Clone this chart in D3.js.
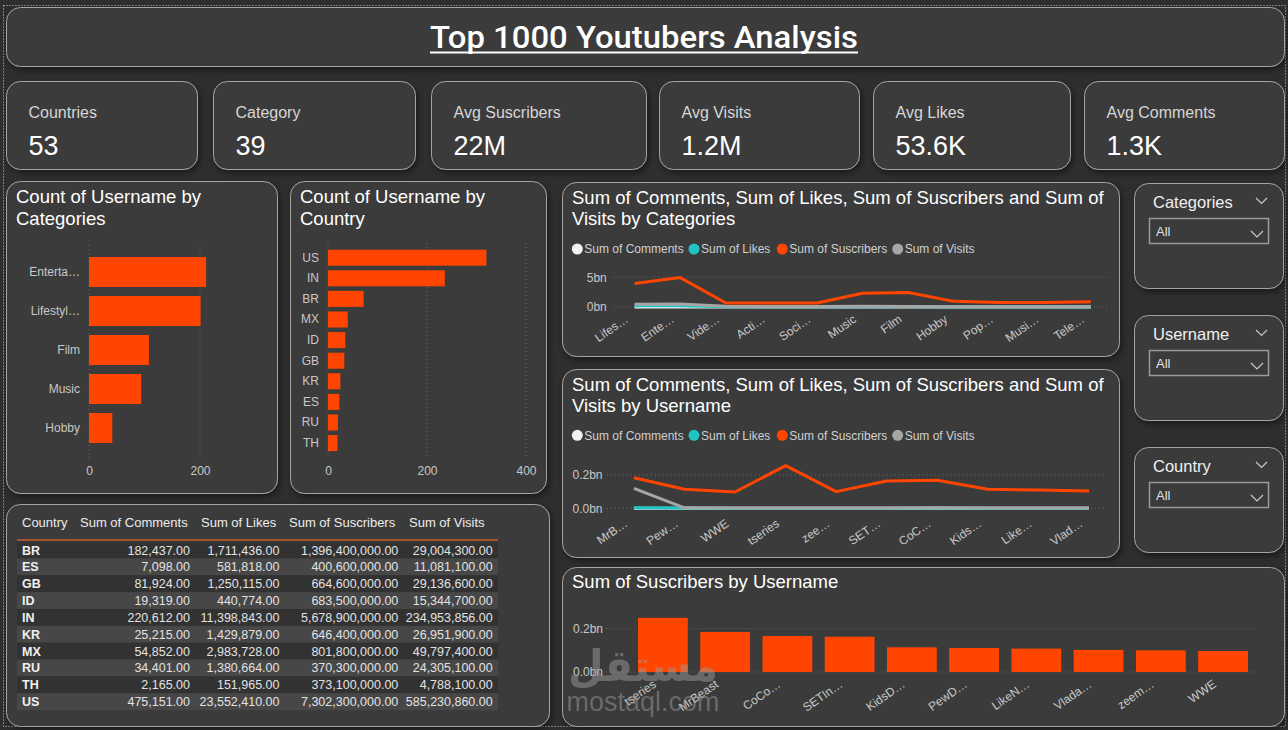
<!DOCTYPE html>
<html>
<head>
<meta charset="utf-8">
<title>Top 1000 Youtubers Analysis</title>
<style>
  body { margin: 0; background: #2e2e2e; }
  svg text { font-family: "Liberation Sans", Arial, sans-serif; }
</style>
<script src="https://d3js.org/d3.v7.min.js"></script>
</head>
<body>
<svg id="dash" width="1288" height="730"></svg>
<script>
// ---- data ----
const kpiLabels = ["Countries", "Category", "Avg Suscribers", "Avg Visits", "Avg Likes", "Avg Comments"];
const kpiValues = ["53", "39", "22M", "1.2M", "53.6K", "1.3K"];

const catNames = ["Enterta…", "Lifestyl…", "Film", "Music", "Hobby"];
const catCounts = [211, 201, 108, 94, 42];

const ctryNames = ["US", "IN", "BR", "MX", "ID", "GB", "KR", "ES", "RU", "TH"];
const ctryCounts = [320, 236, 72, 40, 35, 33, 25, 23, 20, 19];

const seriesNames = ["Sum of Comments", "Sum of Likes", "Sum of Suscribers", "Sum of Visits"];
const seriesColors = ["#f2f2f2", "#1fc4c4", "#ff4500", "#a6a6a6"];

// by category, in billions
const lineCats = ["Lifes…", "Ente…", "Vide…", "Acti…", "Soci…", "Music", "Film", "Hobby", "Pop…", "Musi…", "Tele…"];
const catComments = [0.004, 0.005, 0.001, 0.001, 0.001, 0.001, 0.001, 0.001, 0.001, 0.001, 0.001];
const catLikes    = [0.22, 0.20, 0.04, 0.03, 0.03, 0.05, 0.04, 0.02, 0.02, 0.01, 0.02];
const catSubs     = [3.95, 4.95, 0.67, 0.67, 0.67, 2.33, 2.45, 0.95, 0.74, 0.74, 0.9];
const catVisits   = [0.45, 0.50, 0.12, 0.08, 0.07, 0.12, 0.10, 0.05, 0.05, 0.04, 0.05];

// by username, in billions
const lineUsers = ["MrB…", "Pew…", "WWE", "tseries", "zee…", "SET…", "CoC…", "Kids…", "Like…", "Vlad…"];
const userComments = [0.0001, 0.0001, 0.0001, 0.0001, 0.0001, 0.0001, 0.0001, 0.0001, 0.0001, 0.0001];
const userLikes    = [0.004, 0.002, 0.001, 0.001, 0.001, 0.001, 0.002, 0.001, 0.001, 0.001];
const userSubs     = [0.184, 0.114, 0.098, 0.256, 0.100, 0.164, 0.168, 0.114, 0.110, 0.104];
const userVisits   = [0.120, 0.003, 0.002, 0.002, 0.002, 0.002, 0.004, 0.002, 0.002, 0.002];

const barUsers = ["tseries", "MrBeast", "CoCo…", "SETIn…", "KidsD…", "PewD…", "LikeN…", "Vlada…", "zeem…", "WWE"];
const barSubs  = [0.250, 0.185, 0.166, 0.163, 0.114, 0.111, 0.108, 0.102, 0.100, 0.097];

const tblHeaders = ["Country", "Sum of Comments", "Sum of Likes", "Sum of Suscribers", "Sum of Visits"];
const tblCountry = ["BR", "ES", "GB", "ID", "IN", "KR", "MX", "RU", "TH", "US"];
const tblComments = [182437, 7098, 81924, 19319, 220612, 25215, 54852, 34401, 2165, 475151];
const tblLikes = [1711436, 581818, 1250115, 440774, 11398843, 1429879, 2983728, 1380664, 151965, 23552410];
const tblSubs = [1396400000, 400600000, 664600000, 683500000, 5678900000, 646400000, 801800000, 370300000, 373100000, 7302300000];
const tblVisits = [29004300, 11081100, 29136600, 15344700, 234953856, 26951900, 49797400, 24305100, 4788100, 585230860];

const slicerNames = ["Categories", "Username", "Country"];

// ---- drawing ----
const svg = d3.select("#dash");
const orange = "#ff4500";
const axisText = "#c8c8c8";

const defs = svg.append("defs");
const f = defs.append("filter").attr("id", "shadow").attr("x", "-10%").attr("y", "-10%").attr("width", "125%").attr("height", "130%");
f.append("feDropShadow").attr("dx", 2).attr("dy", 3).attr("stdDeviation", 3).attr("flood-color", "#000").attr("flood-opacity", 0.45);

svg.append("rect").attr("width", 1288).attr("height", 730).attr("fill", "#2e2e2e");
svg.append("rect").attr("x", 3.5).attr("y", 5.5).attr("width", 1282).attr("height", 721)
  .attr("fill", "none").attr("stroke", "#cfcfcf").attr("stroke-dasharray", "1,2");

function panel(x, y, w, h) {
  svg.append("rect").attr("x", x + 0.5).attr("y", y + 0.5).attr("width", w).attr("height", h)
    .attr("rx", 14).attr("fill", "#3a3a3a").attr("stroke", "#a5a5a5").attr("stroke-width", 1)
    .attr("filter", "url(#shadow)");
}
function txt(x, y, s, size, color, anchor) {
  return svg.append("text").attr("x", x).attr("y", y).attr("font-size", size)
    .attr("fill", color).attr("text-anchor", anchor || "start").text(s);
}
function dotted(x1, y1, x2, y2) {
  svg.append("line").attr("x1", x1).attr("y1", y1).attr("x2", x2).attr("y2", y2)
    .attr("stroke", "#6a6a6a").attr("stroke-dasharray", "1,3");
}
function cleanAxis(g) {
  g.select(".domain").remove();
  g.selectAll("text").attr("fill", axisText).attr("font-size", 12)
    .attr("font-family", '"Liberation Sans", Arial, sans-serif');
}

// title
panel(6, 7, 1278, 59);
svg.append("text").attr("x", 644).attr("y", 48).attr("text-anchor", "middle")
  .attr("font-size", 31).attr("font-weight", 500).attr("fill", "#fff")
  .style("font-family", "Roboto, sans-serif")
  .attr("textLength", 428).attr("lengthAdjust", "spacingAndGlyphs")
  .text("Top 1000 Youtubers Analysis");
svg.append("line").attr("x1", 430).attr("x2", 858).attr("y1", 52.5).attr("y2", 52.5)
  .attr("stroke", "#fff").attr("stroke-width", 2);

// KPI cards
const cards = [[6, 81, 191, 88], [213, 81, 202, 88], [431, 81, 215, 88], [659, 81, 200, 88], [873, 81, 197, 88], [1084, 81, 200, 88]];
cards.forEach((c, i) => {
  panel(c[0], c[1], c[2], c[3]);
  txt(c[0] + 22.5, 118, kpiLabels[i], 16, "#d6d6d6");
  txt(c[0] + 22.5, 155, kpiValues[i], 27, "#ffffff");
});

// Count of Username by Categories
panel(6, 181, 271, 312);
txt(16, 203, "Count of Username by", 18.5, "#fff");
txt(16, 225, "Categories", 18.5, "#fff");
{
  const x = d3.scaleLinear().domain([0, 200]).range([89, 200]);
  const y = d3.scaleBand().domain(catNames).range([252.5, 447.5]).paddingInner(0.23).paddingOuter(0.115);
  [0, 200].forEach(t => dotted(x(t), 245, x(t), 458));
  svg.selectAll(".catbar").data(catNames).join("rect")
    .attr("x", x(0)).attr("y", d => y(d)).attr("height", y.bandwidth())
    .attr("width", (d, i) => x(catCounts[i]) - x(0)).attr("fill", orange);
  svg.append("g").attr("transform", "translate(89,0)")
    .call(d3.axisLeft(y).tickSize(0).tickPadding(9)).call(cleanAxis);
  svg.append("g").attr("transform", "translate(0,460)")
    .call(d3.axisBottom(x).tickValues([0, 200]).tickSize(0).tickPadding(6)).call(cleanAxis);
}

// Count of Username by Country
panel(290, 181, 256, 312);
txt(300, 203, "Count of Username by", 18.5, "#fff");
txt(300, 225, "Country", 18.5, "#fff");
{
  const x = d3.scaleLinear().domain([0, 400]).range([328, 526]);
  const y = d3.scaleBand().domain(ctryNames).range([247.4, 453.4]).paddingInner(0.223).paddingOuter(0.112);
  [0, 200, 400].forEach(t => dotted(x(t), 243, x(t), 458));
  svg.selectAll(".ctrybar").data(ctryNames).join("rect")
    .attr("x", x(0)).attr("y", d => y(d)).attr("height", y.bandwidth())
    .attr("width", (d, i) => x(ctryCounts[i]) - x(0)).attr("fill", orange);
  svg.append("g").attr("transform", "translate(328,0)")
    .call(d3.axisLeft(y).tickSize(0).tickPadding(9)).call(cleanAxis);
  svg.append("g").attr("transform", "translate(0,460)")
    .call(d3.axisBottom(x).tickValues([0, 200, 400]).tickSize(0).tickPadding(6)).call(cleanAxis);
}

// line charts
function legend(cy) {
  const xs = [577.3, 694, 782.3, 897.7];
  seriesNames.forEach((s, i) => {
    svg.append("circle").attr("cx", xs[i]).attr("cy", cy).attr("r", 5.5).attr("fill", seriesColors[i]);
    txt(xs[i] + 7, cy + 4.2, s, 12, "#d0d0d0");
  });
}
function lineChart(opt) {
  const x = d3.scalePoint().domain(opt.labels).range(opt.xr);
  const y = d3.scaleLinear().domain([0, opt.top]).range(opt.yr);
  opt.ticks.forEach(t => dotted(opt.gx[0], y(t), opt.gx[1], y(t)));
  svg.append("g").attr("transform", `translate(${opt.ax},0)`)
    .call(d3.axisLeft(y).tickValues(opt.ticks).tickSize(0).tickPadding(0).tickFormat(opt.fmt))
    .call(cleanAxis);
  const line = d3.line().x((d, i) => x(opt.labels[i])).y(d => y(d));
  // draw order: comments, likes, visits, suscribers
  [[0, opt.series[0]], [1, opt.series[1]], [3, opt.series[3]], [2, opt.series[2]]].forEach(([ci, vals]) => {
    svg.append("path").datum(vals).attr("d", line).attr("fill", "none")
      .attr("stroke", seriesColors[ci]).attr("stroke-width", 3).attr("stroke-linejoin", "round");
  });
  const g = svg.append("g").attr("transform", `translate(0,${opt.yr[0]})`)
    .call(d3.axisBottom(x).tickSize(0)).call(cleanAxis);
  g.selectAll("text").attr("y", 0).attr("dy", 0).attr("text-anchor", "end")
    .attr("transform", `translate(-6,${opt.dy}) rotate(-35)`);
}

panel(562, 182, 557, 174);
txt(572, 204, "Sum of Comments, Sum of Likes, Sum of Suscribers and Sum of", 18.5, "#fff");
txt(572, 225, "Visits by Categories", 18.5, "#fff");
legend(249);
lineChart({
  labels: lineCats, xr: [634.6, 1090.8], top: 5, yr: [307, 277.3], ticks: [0, 5],
  fmt: d => d + "bn", ax: 606.8, gx: [614, 1108], dy: 14,
  series: [catComments, catLikes, catSubs, catVisits]
});

panel(562, 369, 557, 188);
txt(572, 391, "Sum of Comments, Sum of Likes, Sum of Suscribers and Sum of", 18.5, "#fff");
txt(572, 412, "Visits by Username", 18.5, "#fff");
legend(435.3);
lineChart({
  labels: lineUsers, xr: [633.9, 1089], top: 0.2, yr: [508.3, 475], ticks: [0, 0.2],
  fmt: d => d3.format(".1f")(d) + "bn", ax: 602.5, gx: [607, 1104], dy: 17,
  series: [userComments, userLikes, userSubs, userVisits]
});

// Sum of Suscribers by Username
panel(562, 567, 722, 159);
txt(572, 588, "Sum of Suscribers by Username", 18.5, "#fff");
{
  const x = d3.scaleBand().domain(barUsers).range([631.8, 1254.2]).paddingInner(0.2).paddingOuter(0.1);
  const y = d3.scaleLinear().domain([0, 0.2]).range([672, 628.7]);
  [0, 0.2].forEach(t => dotted(606, y(t), 1256, y(t)));
  svg.append("g").attr("transform", "translate(603,0)")
    .call(d3.axisLeft(y).tickValues([0, 0.2]).tickSize(0).tickPadding(0).tickFormat(d => d3.format(".1f")(d) + "bn"))
    .call(cleanAxis);
  svg.selectAll(".ubar").data(barUsers).join("rect")
    .attr("x", d => x(d)).attr("width", x.bandwidth())
    .attr("y", (d, i) => y(barSubs[i])).attr("height", (d, i) => y(0) - y(barSubs[i]))
    .attr("fill", orange);
  const g = svg.append("g").attr("transform", "translate(0,672)")
    .call(d3.axisBottom(x).tickSize(0)).call(cleanAxis);
  g.selectAll("text").attr("y", 0).attr("dy", 0).attr("text-anchor", "end")
    .attr("transform", "translate(-6,14) rotate(-35)");
}

// table
panel(6, 504, 543, 222);
{
  const fmt = d3.format(",.2f");
  const headX = [22, 80, 201, 289, 409];
  const rightX = [190, 279.5, 398.3, 492.7];
  tblHeaders.forEach((h, i) => txt(headX[i], 527, h, 13, "#ececec"));
  const rowY = d3.scalePoint().domain(tblCountry).range([550, 701.7]);
  const step = rowY.step();
  tblCountry.forEach((c, i) => {
    const cy = rowY(c);
    svg.append("rect").attr("x", 17).attr("y", cy - step / 2).attr("width", 481).attr("height", step)
      .attr("fill", i % 2 ? "#474747" : "#323232");
  });
  svg.append("line").attr("x1", 17).attr("x2", 498).attr("y1", 540).attr("y2", 540)
    .attr("stroke", "#a4532c").attr("stroke-width", 2);
  const cols = [tblComments, tblLikes, tblSubs, tblVisits];
  tblCountry.forEach((c, i) => {
    const by = rowY(c) + 4.5;
    txt(22, by, c, 12.5, "#f0f0f0").attr("font-weight", "bold");
    cols.forEach((col, j) => txt(rightX[j], by, fmt(col[i]), 12.5, "#e2e2e2", "end"));
  });
}

// slicers
[183, 315, 447].forEach((py, i) => {
  panel(1134, py, 149, 105);
  txt(1153, py + 24.5, slicerNames[i], 16.5, "#f0f0f0");
  svg.append("polyline").attr("points", `1256,${py + 15} 1261.5,${py + 20.5} 1267,${py + 15}`)
    .attr("fill", "none").attr("stroke", "#c8c8c8").attr("stroke-width", 1.2);
  svg.append("rect").attr("x", 1149.5).attr("y", py + 35.5).attr("width", 119).attr("height", 25)
    .attr("fill", "none").attr("stroke", "#9a9a9a").attr("stroke-width", 1.5);
  txt(1156, py + 52.5, "All", 13, "#e0e0e0");
  svg.append("polyline").attr("points", `1251,${py + 48} 1257,${py + 54} 1263,${py + 48}`)
    .attr("fill", "none").attr("stroke", "#c8c8c8").attr("stroke-width", 1.2);
});

// watermark (sits over the bar chart axis in the reference as well)
svg.append("text").attr("x", 643).attr("y", 681).attr("text-anchor", "middle")
  .attr("font-size", 44).attr("font-weight", "bold").attr("fill", "#9a9a9a").attr("opacity", 0.5)
  .style("font-family", '"DejaVu Sans", sans-serif')
  .attr("textLength", 150).attr("lengthAdjust", "spacingAndGlyphs").text("مستقل");
svg.append("text").attr("x", 643).attr("y", 711).attr("text-anchor", "middle")
  .attr("font-size", 27).attr("fill", "#9a9a9a").attr("opacity", 0.5).text("mostaql.com");
</script>
</body>
</html>
